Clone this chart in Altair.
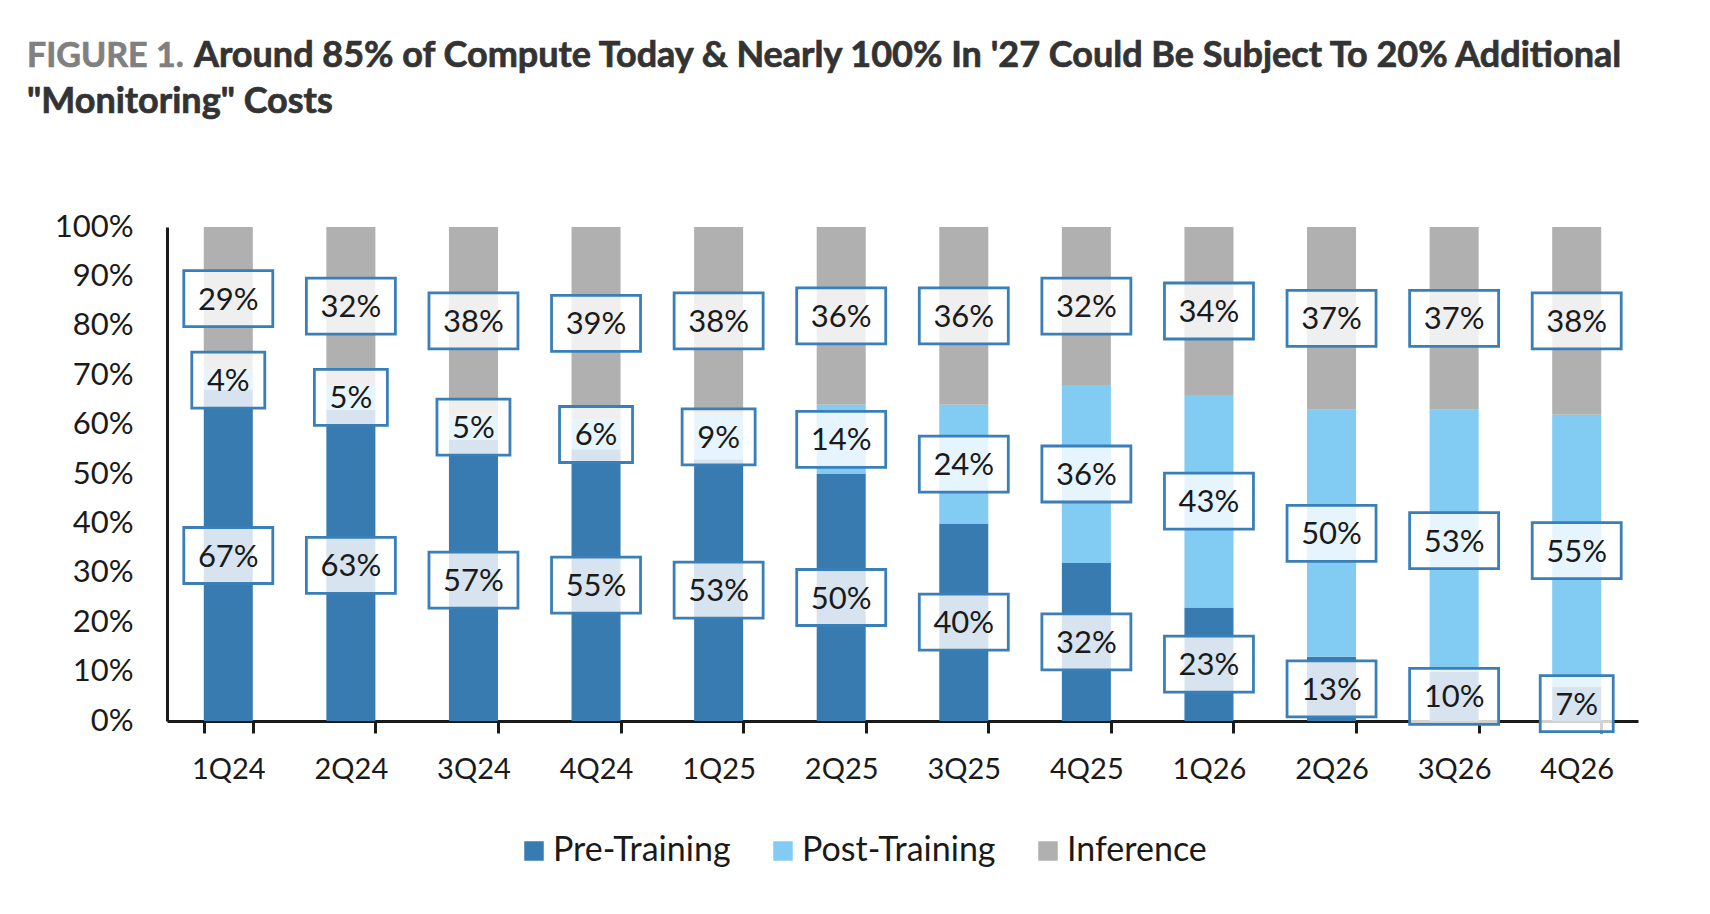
import altair as alt
import pandas as pd

QUARTERS = ["1Q24", "2Q24", "3Q24", "4Q24", "1Q25", "2Q25", "3Q25", "4Q25",
            "1Q26", "2Q26", "3Q26", "4Q26"]
PRE = [67, 63, 57, 55, 53, 50, 40, 32, 23, 13, 10, 7]
POST = [4, 5, 5, 6, 9, 14, 24, 36, 43, 50, 53, 55]
INF = [29, 32, 38, 39, 38, 36, 36, 32, 34, 37, 37, 38]
SERIES = ["Pre-Training", "Post-Training", "Inference"]
COLORS = ["#377BB0", "#82CBF2", "#B0B0B0"]
Y_TICKS = [0, 10, 20, 30, 40, 50, 60, 70, 80, 90, 100]

TITLE_PREFIX = "FIGURE 1."
TITLE_LINE1 = "Around 85% of Compute Today & Nearly 100% In '27 Could Be Subject To 20% Additional"
TITLE_LINE2 = "\"Monitoring\" Costs"

rows = []
for i, q in enumerate(QUARTERS):
    for k, (s, vals) in enumerate(zip(SERIES, [PRE, POST, INF])):
        rows.append({"quarter": q, "series": s, "order": k, "value": vals[i]})
df = pd.DataFrame(rows)

W, H = 1471, 494
FONT = "Lato"
INK = "#1a1a1a"
TITLE_INK = "#333333"
BOX = "#3A7FB8"

WIDE = "M-44.5,-28H44.5V28H-44.5Z"
NARROW = "M-36.5,-28H36.5V28H-36.5Z"

base = alt.Chart(df).transform_stack(
    stack="value", groupby=["quarter"], as_=["y0", "y1"],
    sort=[alt.SortField("order", "ascending")]
).transform_calculate(
    mid="(datum.y0 + datum.y1) / 2",
    label="datum.value + '%'",
    nchar="toString(length(datum.value + '%'))",
)

xscale = alt.Scale(paddingInner=0.6, paddingOuter=0.3)
yscale = alt.Scale(domain=[0, 100], nice=False)

x_enc = alt.X(
    "quarter:N", sort=QUARTERS, scale=xscale,
    axis=alt.Axis(
        title=None, labelAngle=0, tickBand="extent",
        domainWidth=3, domainColor=INK, tickWidth=3, tickColor=INK, tickSize=12,
        labelFont=FONT, labelFontSize=29, labelColor=INK, labelPadding=22,
    ),
)

bars = base.mark_bar().encode(
    x=x_enc,
    y=alt.Y(
        "y0:Q", scale=yscale,
        axis=alt.Axis(
            title=None, values=Y_TICKS, labelExpr="datum.value + '%'", ticks=False,
            grid=False, domainWidth=3, domainColor=INK, labelFont=FONT,
            labelFontSize=31, labelColor=INK, labelPadding=34,
        ),
    ),
    y2="y1:Q",
    color=alt.Color(
        "series:N", scale=alt.Scale(domain=SERIES, range=COLORS),
        legend=alt.Legend(
            orient="none", legendX=350, legendY=607, direction="horizontal",
            title=None, symbolType="square", symbolSize=380, symbolStrokeWidth=0,
            labelFont=FONT, labelFontSize=34, labelColor=INK, labelLimit=500,
            columnPadding=35, labelOffset=2,
        ),
    ),
)

boxes = base.mark_point(
    filled=True, fill="white", fillOpacity=0.8, stroke=BOX, strokeWidth=2.8,
    opacity=1, size=4,
).encode(
    x=alt.X("quarter:N", sort=QUARTERS),
    y=alt.Y("mid:Q", scale=yscale),
    shape=alt.Shape("nchar:N", scale=alt.Scale(domain=["2", "3"], range=[NARROW, WIDE]),
                    legend=None),
)

labels = base.mark_text(font=FONT, fontSize=31, color=INK, baseline="middle", dy=2).encode(
    x=alt.X("quarter:N", sort=QUARTERS),
    y=alt.Y("mid:Q", scale=yscale),
    text="label:N",
)

t0 = alt.Chart(pd.DataFrame({"t": [TITLE_PREFIX]})).mark_text(
    align="left", baseline="alphabetic", font=FONT, fontWeight="bold",
    fontSize=34, color="#808080", stroke="#808080", strokeWidth=0.7,
).encode(x=alt.value(-140), y=alt.value(-160), text="t:N")

t1 = alt.Chart(pd.DataFrame({"t": [TITLE_LINE1]})).mark_text(
    align="left", baseline="alphabetic", font=FONT, fontWeight="bold",
    fontSize=36, color=TITLE_INK, stroke=TITLE_INK, strokeWidth=0.7,
).encode(x=alt.value(27), y=alt.value(-160), text="t:N")

t2 = alt.Chart(pd.DataFrame({"t": [TITLE_LINE2]})).mark_text(
    align="left", baseline="alphabetic", font=FONT, fontWeight="bold",
    fontSize=36, color=TITLE_INK, stroke=TITLE_INK, strokeWidth=0.7,
).encode(x=alt.value(-140), y=alt.value(-114), text="t:N")

chart = alt.layer(bars, boxes, labels, t0, t1, t2).resolve_scale(
    shape="independent"
).properties(
    width=W, height=H,
    autosize=alt.AutoSizeParams(type="none"),
    padding={"left": 159, "top": 219, "right": 64, "bottom": 185},
).configure_view(stroke=None)

chart.save("out.html", embed_options={"renderer": "svg", "actions": False})
